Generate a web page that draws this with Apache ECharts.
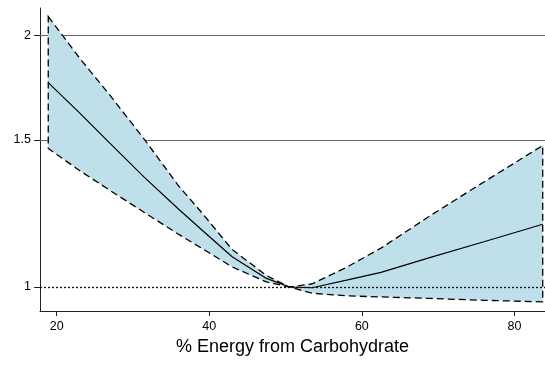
<!DOCTYPE html>
<html>
<head>
<meta charset="utf-8">
<script src="https://cdn.jsdelivr.net/npm/echarts@6/dist/echarts.min.js"></script>
<style>html,body{margin:0;padding:0;background:#fff}#c{width:545px;height:367px}</style>
</head>
<body>
<div id="c"></div>
<script>
const xVals   = [18.9, 23, 27, 31.5, 36, 39, 43, 47.5, 50.5, 53.5, 58, 62.5, 69, 76, 83.7];
const central = [1.757, 1.616, 1.486, 1.353, 1.239, 1.171, 1.087, 1.024, 1.0, 0.998, 1.019, 1.041, 1.085, 1.133, 1.189];
const upper   = [2.108, 1.880, 1.696, 1.502, 1.321, 1.228, 1.109, 1.032, 1.0, 1.009, 1.056, 1.113, 1.218, 1.336, 1.477];
const lower   = [1.465, 1.379, 1.305, 1.228, 1.156, 1.113, 1.057, 1.014, 1.0, 0.983, 0.976, 0.973, 0.969, 0.964, 0.960];
const xTicks = [20, 40, 60, 80];
const yTicks = [1, 1.5, 2];
const gridVals = [1.5, 2];
const refVal = 1;
const xTitle = '% Energy from Carbohydrate';

const font = 'Liberation Sans, Arial, Helvetica, sans-serif';
const chart = echarts.init(document.getElementById('c'), null, {renderer: 'canvas'});
chart.setOption({
  animation: false,
  backgroundColor: '#fff',
  grid: {left: 40, right: 0, top: 8, bottom: 56},
  xAxis: {
    type: 'value', min: 17.82, max: 84,
    name: xTitle, nameLocation: 'middle', nameGap: 27,
    nameTextStyle: {fontFamily: font, fontSize: 18, color: '#000'},
    axisLine: {show: true, lineStyle: {color: '#222', width: 1}},
    axisTick: {show: true, length: 5, customValues: xTicks, lineStyle: {color: '#222'}},
    axisLabel: {customValues: xTicks, margin: 9, fontFamily: font, fontSize: 12.5, color: '#000'},
    splitLine: {show: false}
  },
  yAxis: {
    type: 'log', min: 0.936, max: 2.158,
    axisLine: {show: true, lineStyle: {color: '#222', width: 1}},
    axisTick: {show: true, length: 6, customValues: yTicks, lineStyle: {color: '#222'}},
    axisLabel: {customValues: yTicks, margin: 9, fontFamily: font, fontSize: 12.5, color: '#000'},
    splitLine: {show: false}
  },
  series: [
    {
      type: 'line', data: [], z: 1, silent: true,
      markLine: {
        z: 1, silent: true, symbol: 'none', label: {show: false},
        lineStyle: {color: '#666', width: 1, type: 'solid'},
        data: gridVals.map(v => ({yAxis: v}))
      }
    },
    {
      type: 'custom', z: 2, clip: true, silent: true,
      data: [[xVals[0], central[0]]],
      renderItem: function (params, api) {
        const pts = [];
        for (let i = 0; i < xVals.length; i++) pts.push(api.coord([xVals[i], upper[i]]));
        for (let i = xVals.length - 1; i >= 0; i--) pts.push(api.coord([xVals[i], lower[i]]));
        return {
          type: 'polygon', shape: {points: pts},
          style: {fill: '#bfe0ea', stroke: '#000', lineWidth: 1.3, lineDash: [7, 4]}
        };
      }
    },
    {
      type: 'line', z: 3, symbol: 'none', silent: true,
      data: xVals.map((x, i) => [x, central[i]]),
      lineStyle: {color: '#000', width: 1.2},
      markLine: {
        z: 5, silent: true, symbol: 'none', label: {show: false},
        lineStyle: {color: '#111', width: 1.3, type: [2, 2]},
        data: [{yAxis: refVal}]
      }
    }
  ]
});
</script>
</body>
</html>
